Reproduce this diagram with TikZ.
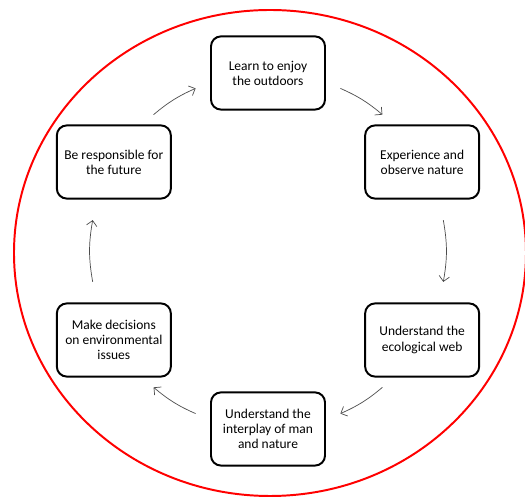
\documentclass[tikz,border=0pt]{standalone}
\usepackage{fontspec}
\setmainfont{Carlito}
\usetikzlibrary{arrows.meta}

\begin{document}
\begin{tikzpicture}[
    stage/.style={rectangle, draw, rounded corners=0.25cm, line width=1.4pt, align=center, minimum width=2.85cm, minimum height=1.83cm, font=\fontsize{9.6}{10.7}\selectfont},
    flow/.style={-{Straight Barb[length=1.3mm, width=2.6mm]}, draw=black!70, line width=0.5pt},
    frame/.style={draw=red, line width=1.4pt}
]
\useasboundingbox (-6.7,-6.175) rectangle (6.425,6.275);

% Cornice esterna
\draw[frame] (0.05,-0.05) ellipse (6.4cm and 6.075cm);

% Fasi del ciclo
\node[stage] (enjoy) at (90:4.45) {Learn to enjoy\\the outdoors};
\node[stage] (observe) at (30:4.45) {Experience and\\observe nature};
\node[stage] (web) at (-30:4.45) {Understand the\\ecological web};
\node[stage] (interplay) at (-90:4.45) {Understand the\\interplay of man\\and nature};
\node[stage] (decide) at (210:4.45) {Make decisions\\on environmental\\issues};
\node[stage] (future) at (150:4.45) {Be responsible for\\the future};

% Frecce del ciclo
\foreach \a/\b/\c [count=\i] in {130/114/8, 66/50/8, 10/-10/10, -50/-66/8, -114/-130/8, 190/170/10} {
  \coordinate (s\i) at (\a:4.45);
  \coordinate (e\i) at (\b:4.45);
  \draw[flow] (s\i) to[bend left=\c] (e\i);
}

\end{tikzpicture}
\end{document}
